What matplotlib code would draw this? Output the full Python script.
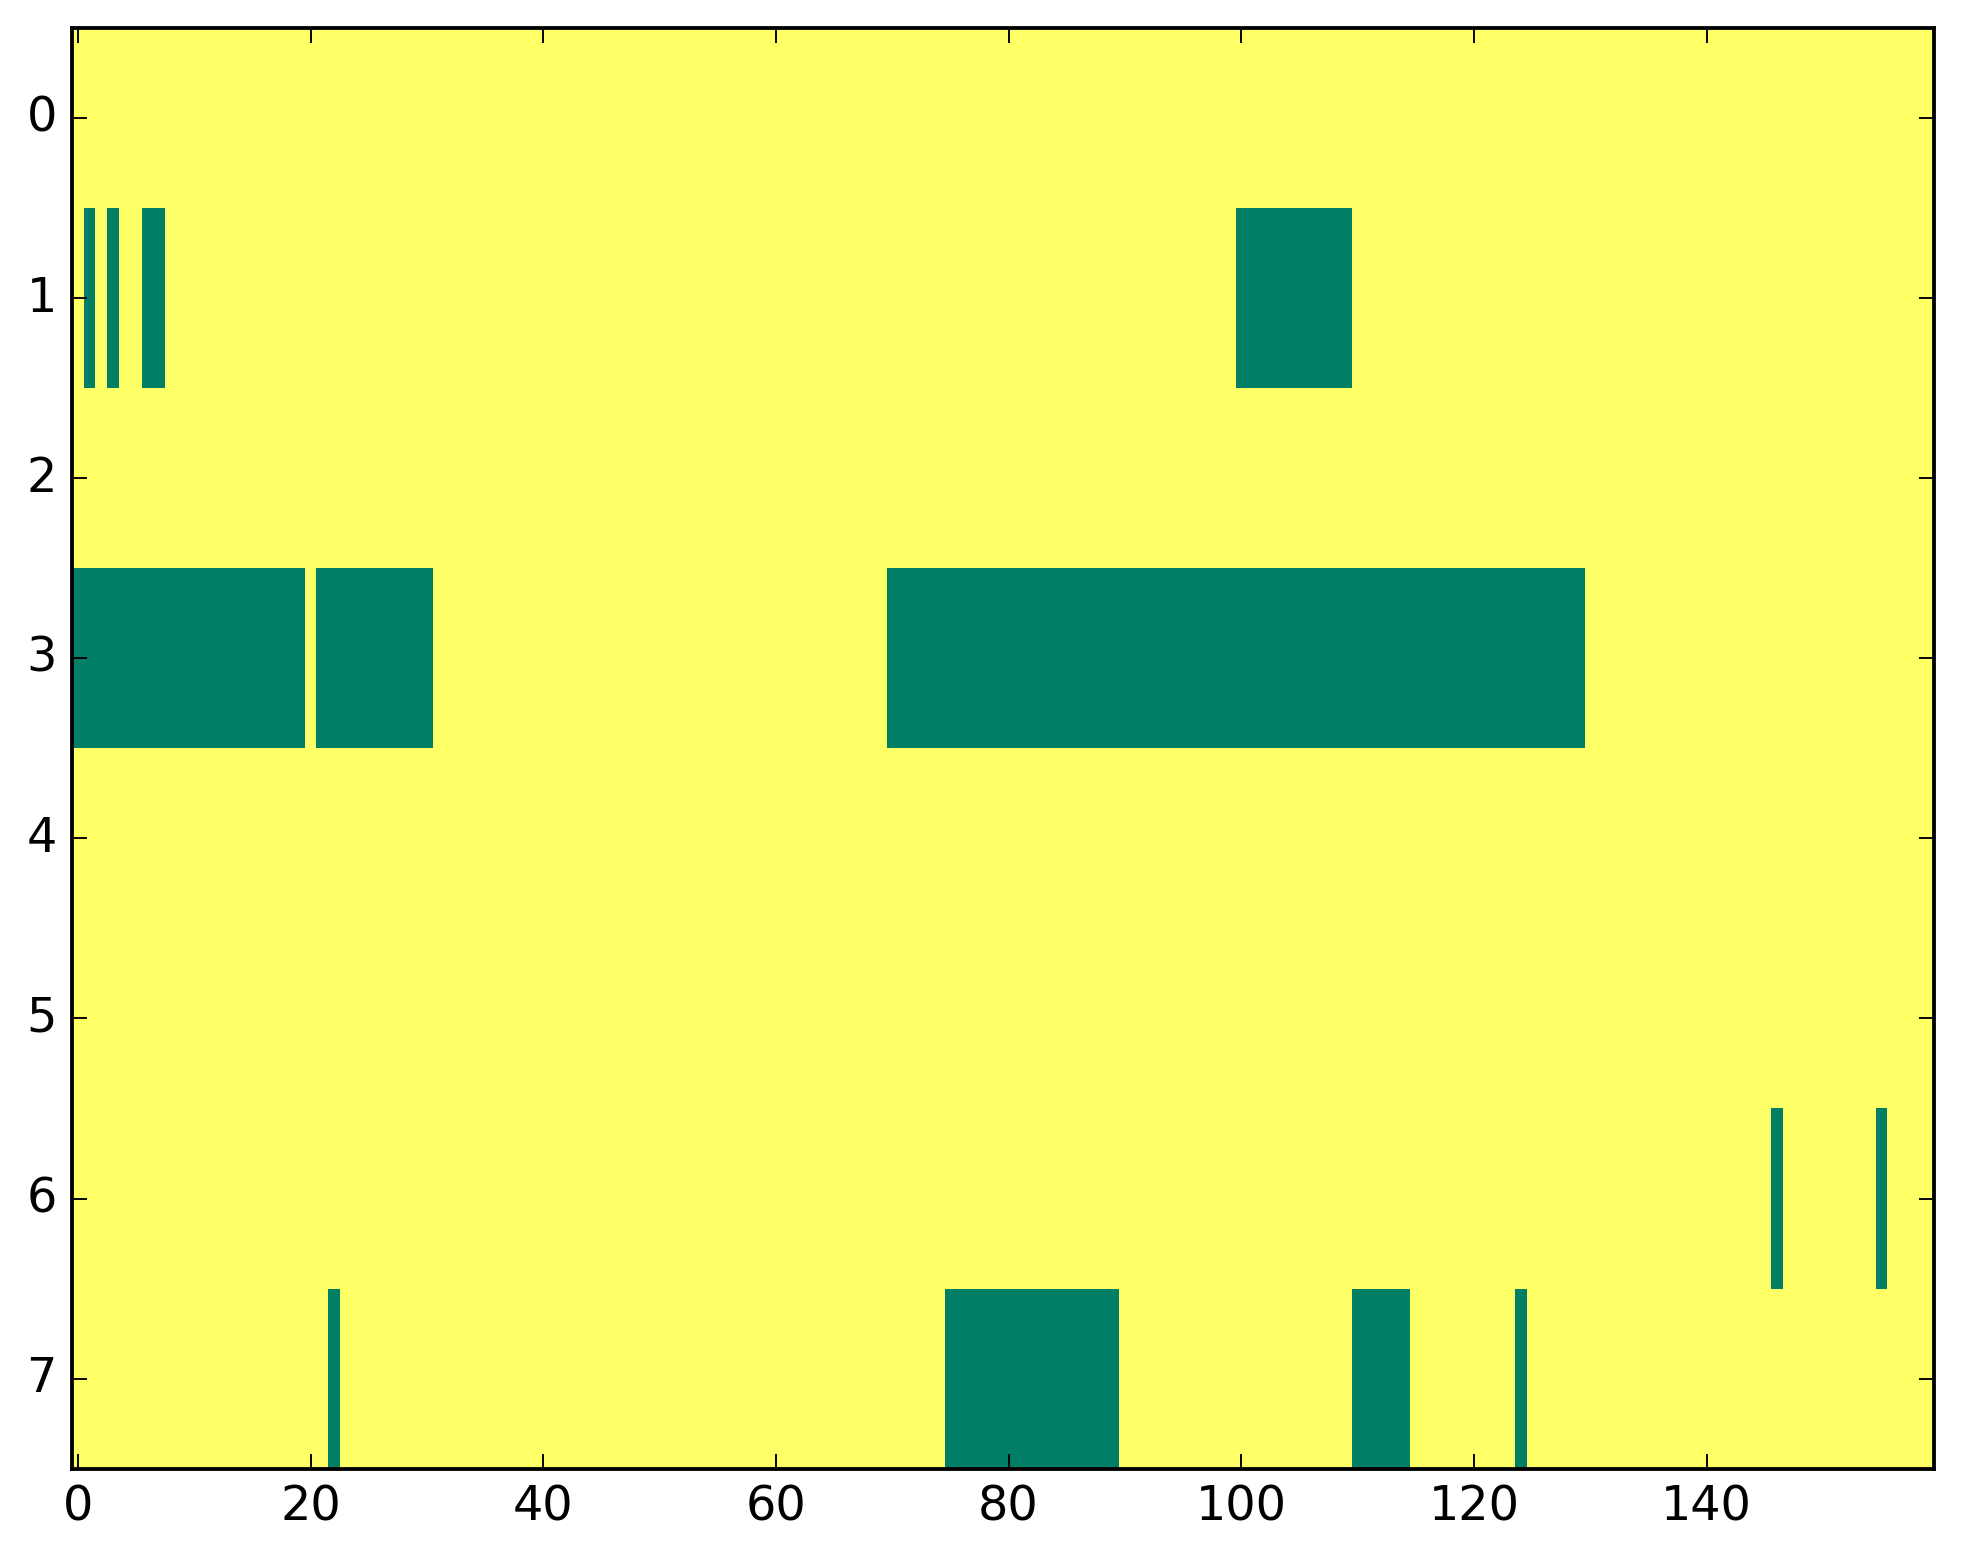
import numpy as np
import matplotlib
matplotlib.use("Agg")
import matplotlib.pyplot as plt

plt.style.use("classic")

n_rows = 8
n_cols = 160
# Columns with value 0 (green) in each row; all other cells are 1 (yellow)
row0 = []
row1 = [1, 3, 6, 7] + list(range(100, 110))
row2 = []
row3 = list(range(0, 20)) + list(range(21, 31)) + list(range(70, 130))
row4 = []
row5 = []
row6 = [146, 155]
row7 = [22] + list(range(75, 90)) + list(range(110, 115)) + [124]
zero_cols = [row0, row1, row2, row3, row4, row5, row6, row7]

data = np.ones((n_rows, n_cols))
for r, cols in enumerate(zero_cols):
    data[r, cols] = 0

DPI = 275
fig = plt.figure(figsize=(1963 / DPI, 1564 / DPI), dpi=DPI, facecolor="white")
ax = fig.add_axes([0.0367, 0.061, 0.9483, 0.921])
ax.imshow(data, cmap="summer", aspect="auto", interpolation="nearest", vmin=0, vmax=1)
ax.set_xticks(np.arange(0, 141, 20))
ax.set_yticks(np.arange(0, 8, 1))
ax.tick_params(labelsize=12.5)
fig.savefig("out.png", dpi=DPI, facecolor="white")
